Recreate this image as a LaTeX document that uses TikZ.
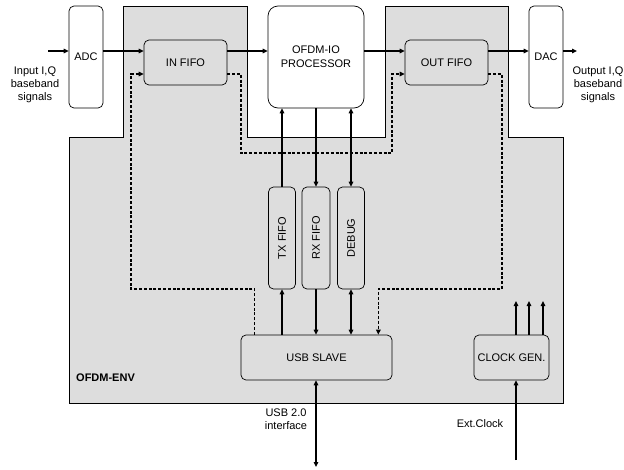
\documentclass[tikz,border=0pt]{standalone}
\usepackage{fontspec}
\setmainfont{Liberation Sans}
\usetikzlibrary{arrows.meta}
\definecolor{envgray}{RGB}{221,221,221}
\begin{document}
\begin{tikzpicture}[x=1pt,y=-1pt,
        box/.style={draw, line width=0.7pt, rounded corners=5pt, fill=envgray, inner sep=0pt, align=center, font=\fontsize{11}{14}\selectfont},
        wbox/.style={box, fill=white},
        txt/.style={align=center, inner sep=0pt, font=\fontsize{11}{13}\selectfont},
        arr/.style={line width=1.3pt, -{Triangle[length=5pt,width=4.5pt]}},
        darr/.style={line width=1.3pt, {Triangle[length=5pt,width=4.5pt]}-{Triangle[length=5pt,width=4.5pt]}},
        dline/.style={line width=1.3pt, dash pattern=on 3pt off 1.8pt}]
        \useasboundingbox (0,0) rectangle (624,469);
        \filldraw[fill=envgray, line width=0.7pt] (69,137) -- (123,137) -- (123,6) -- (247,6) -- (247,137) -- (385,137) -- (385,6) -- (508,6) -- (508,137) -- (563,137) -- (563,403) -- (69,403) -- cycle;
        \node[wbox, minimum width=34pt, minimum height=102pt] (adc) at (86,57) {ADC};
        \node[wbox, minimum width=34pt, minimum height=102pt] (dac) at (546,57) {DAC};
        \node[wbox, rounded corners=10pt, minimum width=96pt, minimum height=102pt] (proc) at (316,57) {OFDM-IO\\PROCESSOR};
        \node[box, minimum width=83pt, minimum height=45pt] (infifo) at (185.5,62.5) {IN FIFO};
        \node[box, minimum width=83pt, minimum height=45pt] (outfifo) at (446.5,62.5) {OUT FIFO};
        \node[box, minimum width=27pt, minimum height=102pt] (txfifo) at (282,238) {\rotatebox{90}{TX FIFO}};
        \node[box, minimum width=28pt, minimum height=102pt] (rxfifo) at (316,238) {\rotatebox{90}{RX FIFO}};
        \node[box, minimum width=27pt, minimum height=102pt] (debug) at (351,238) {\rotatebox{90}{DEBUG}};
        \node[box, minimum width=151pt, minimum height=45pt] (usb) at (316.5,357.5) {USB SLAVE};
        \node[box, minimum width=75pt, minimum height=45pt] (clk) at (511.5,357.5) {CLOCK GEN.};
        \node[txt] (inlbl) at (35,85) {Input I,Q\\baseband\\signals};
        \node[txt] (outlbl) at (598,85) {Output I,Q\\baseband\\signals};
        \node[txt] (usblbl) at (286,419) {USB 2.0\\interface};
        \node[txt] (extlbl) at (480,424) {Ext.Clock};
        \node[txt, anchor=west, font=\fontsize{11}{13}\selectfont\bfseries] (envlbl) at (76,378) {OFDM-ENV};
        \coordinate (inL) at (48,51);
        \coordinate (outR) at (577,51);
        \coordinate (usbB) at (316,467);
        \coordinate (extC) at (516,460);
        \draw[arr] (inL) -- (inL -| adc.west);
        \draw[arr] (inL -| adc.east) -- (inL -| infifo.west);
        \draw[arr] (inL -| infifo.east) -- (inL -| proc.west);
        \draw[arr] (inL -| proc.east) -- (inL -| outfifo.west);
        \draw[arr] (inL -| outfifo.east) -- (inL -| dac.west);
        \draw[arr] (inL -| dac.east) -- (outR);
        \draw[arr] (txfifo.north) -- (txfifo.north |- proc.south);
        \draw[arr] (rxfifo.north |- proc.south) -- (rxfifo.north);
        \draw[darr] (debug.north |- proc.south) -- (debug.north);
        \draw[arr] (usb.north -| txfifo.south) -- (txfifo.south);
        \draw[arr] (rxfifo.south) -- (usb.north -| rxfifo.south);
        \draw[darr] (debug.south) -- (usb.north -| debug.south);
        \draw[darr] (usb.south -| usbB) -- (usbB);
        \draw[arr] (extC) -- (clk.south -| extC);
        \foreach \x/\n in {516/1,529/2,543/3} {
            \coordinate (ck\n) at (\x,301);
            \draw[arr] (clk.north -| ck\n) -- (ck\n);
        }
        \draw[dline, arr] ([yshift=-11.5pt]infifo.east) -| (241,153) -- (392,153) |- ([yshift=-11.5pt]outfifo.west);
        \draw[dline, arr] ([xshift=14pt]usb.north west) |- (131,289) |- ([yshift=-11.5pt]infifo.west);
        \draw[dline, arr] ([yshift=-11.5pt]outfifo.east) -| (502,289) -| ([xshift=-14pt]usb.north east);
    \end{tikzpicture}
\end{document}
